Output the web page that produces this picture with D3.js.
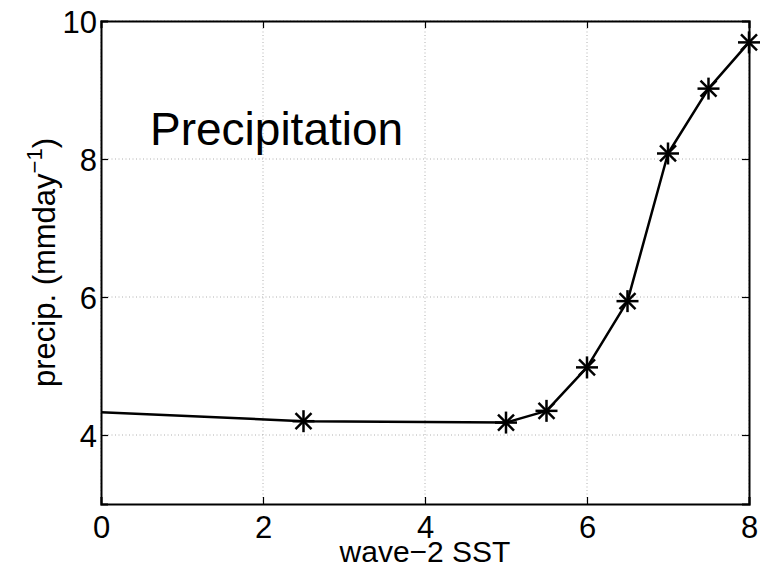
<!DOCTYPE html>
<html>
<head>
<meta charset="utf-8">
<script src="https://cdn.jsdelivr.net/npm/d3@7"></script>
<style>
  html, body { margin: 0; padding: 0; background: #fff; }
  svg { display: block; font-family: "Liberation Sans", Arial, Helvetica, sans-serif; }
</style>
</head>
<body>
<svg id="chart" width="769" height="567"></svg>
<script>
// Data
const sstValues = [0, 2.5, 5, 5.5, 6, 6.5, 7, 7.5, 8];
const precipValues = [4.33, 4.20, 4.18, 4.35, 4.98, 5.94, 8.08, 9.02, 9.69];
const markerShown = [false, true, true, true, true, true, true, true, true];
const xTicks = [0, 2, 4, 6, 8];
const yTicks = [4, 6, 8, 10];
const xDomain = [0, 8];
const yDomain = [3, 10];
const titleText = "Precipitation";
const xLabelText = "wave\u22122 SST";

const svg = d3.select("#chart");
const L = 101, R = 749, T = 21, B = 504;
const x = d3.scaleLinear().domain(xDomain).range([L, R]);
const y = d3.scaleLinear().domain(yDomain).range([B, T]);

// Grid
const grid = svg.append("g").attr("stroke", "#b0b0b0").attr("stroke-width", 1)
  .attr("stroke-dasharray", "1,2.5").attr("fill", "none");
xTicks.forEach(t => grid.append("line").attr("x1", x(t)).attr("x2", x(t)).attr("y1", T).attr("y2", B));
yTicks.forEach(t => grid.append("line").attr("x1", L).attr("x2", R).attr("y1", y(t)).attr("y2", y(t)));

// Axes (MATLAB box style, inward ticks)
const fs = 31;
const axB = svg.append("g").attr("transform", `translate(0,${B})`)
  .call(d3.axisBottom(x).tickValues(xTicks).tickSize(-7).tickPadding(12).tickFormat(d3.format("d")));
const axT = svg.append("g").attr("transform", `translate(0,${T})`)
  .call(d3.axisTop(x).tickValues(xTicks).tickSize(-7).tickFormat(""));
const axL = svg.append("g").attr("transform", `translate(${L},0)`)
  .call(d3.axisLeft(y).tickValues(yTicks).tickSize(-7).tickPadding(4).tickFormat(d3.format("d")));
const axR = svg.append("g").attr("transform", `translate(${R},0)`)
  .call(d3.axisRight(y).tickValues(yTicks).tickSize(-7).tickFormat(""));
[axB, axT, axL, axR].forEach(a => {
  a.select(".domain").attr("stroke", "#000").attr("stroke-width", 2);
  a.selectAll(".tick line").attr("stroke", "#000").attr("stroke-width", 1.2);
  a.selectAll("text").attr("font-size", fs).attr("fill", "#000")
    .attr("font-family", "'Liberation Sans', Arial, sans-serif");
});
axB.selectAll("text").attr("dy", null).attr("y", 34);
axL.selectAll("text").attr("dy", "0.36em");

// Line
const pts = sstValues.map((v, i) => ({ x: v, y: precipValues[i], m: markerShown[i] }));
svg.append("path").datum(pts)
  .attr("fill", "none").attr("stroke", "#000").attr("stroke-width", 2.5)
  .attr("stroke-linejoin", "round")
  .attr("d", d3.line().x(d => x(d.x)).y(d => y(d.y)));

// Asterisk markers
const a = 11, dg = 8;
const mk = svg.append("g").attr("stroke", "#000").attr("stroke-width", 2.5);
pts.filter(d => d.m).forEach(d => {
  const cx = x(d.x), cy = y(d.y);
  mk.append("line").attr("x1", cx - a).attr("x2", cx + a).attr("y1", cy).attr("y2", cy);
  mk.append("line").attr("x1", cx).attr("x2", cx).attr("y1", cy - a).attr("y2", cy + a);
  mk.append("line").attr("x1", cx - dg).attr("x2", cx + dg).attr("y1", cy - dg).attr("y2", cy + dg);
  mk.append("line").attr("x1", cx - dg).attr("x2", cx + dg).attr("y1", cy + dg).attr("y2", cy - dg);
});

// Title inside the plot
svg.append("text").attr("x", 150).attr("y", 145)
  .attr("font-size", 46).attr("fill", "#000").text(titleText);

// X label
svg.append("text").attr("x", (L + R) / 2).attr("y", 562)
  .attr("text-anchor", "middle").attr("font-size", 30).attr("fill", "#000").text(xLabelText);

// Y label with superscript
const yl = svg.append("text")
  .attr("transform", `translate(55,${(T + B) / 2}) rotate(-90)`)
  .attr("text-anchor", "middle").attr("font-size", fs).attr("fill", "#000");
yl.append("tspan").text("precip. (mmday");
yl.append("tspan").attr("font-size", 22).attr("dy", -13).text("\u22121");
yl.append("tspan").attr("dy", 13).text(")");
</script>
</body>
</html>
